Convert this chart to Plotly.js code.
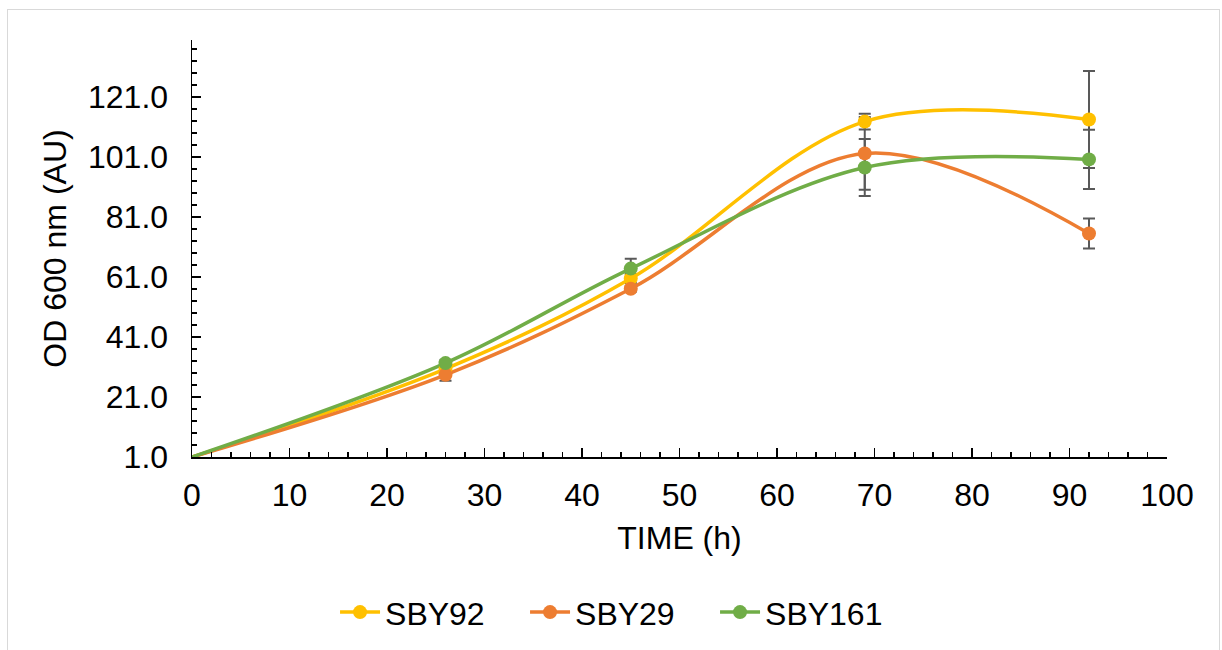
<!DOCTYPE html>
<html>
<head>
<meta charset="utf-8">
<script src="https://cdn.plot.ly/plotly-3.0.1.min.js"></script>
<style>
  html, body { margin: 0; padding: 0; background: #ffffff; }
  #wrap { position: relative; width: 1222px; height: 650px; overflow: hidden; }
  #chart { width: 1222px; height: 650px; }
  #frame { position: absolute; left: 7px; top: 9px; width: 1211px; height: 660px;
           border: 1px solid #d9d9d9; pointer-events: none; }
</style>
</head>
<body>
<div id="wrap">
  <div id="chart"></div>
  <div id="frame"></div>
</div>
<script>
// Data
const timeH = [0, 26, 45, 69, 92];
const sby92 = [1, 30.4, 60.5, 112.8, 113.5];
const sby29 = [1, 28.4, 57.1, 102.2, 75.5];
const sby161 = [1, 32.3, 63.8, 97.5, 100.2];
const err92 = [0, 1, 1.5, 2.6, 16.2];
const err29 = [0, 2, 1, 12.1, 5];
const err161 = [0, 1, 3.3, 9.5, 9.9];
const seriesNames = ['SBY92', 'SBY29', 'SBY161'];
const seriesColors = ['#FFC000', '#ED7D31', '#70AD47'];

const ys = [sby92, sby29, sby161];
const errs = [err92, err29, err161];

const FONT = 'Liberation Sans, Arial, sans-serif';
const FS = 32;

const traces = [];
// lines with error bars (no legend)
ys.forEach((y, k) => {
  traces.push({
    type: 'scatter', mode: 'lines', name: seriesNames[k], showlegend: false,
    x: timeH, y: y,
    line: { color: seriesColors[k], width: 3.5, shape: 'spline', smoothing: 1 },
    error_y: { type: 'data', array: errs[k], visible: true, color: '#595959', thickness: 2, width: 6 },
    cliponaxis: false
  });
});
// markers on top (first point at the axis origin has no marker)
ys.forEach((y, k) => {
  traces.push({
    type: 'scatter', mode: 'markers', name: seriesNames[k], showlegend: false,
    x: timeH.slice(1), y: y.slice(1),
    marker: { color: seriesColors[k], size: 14 },
    cliponaxis: false
  });
});
// legend-only entries
ys.forEach((y, k) => {
  traces.push({
    type: 'scatter', mode: 'lines+markers', name: seriesNames[k], showlegend: true,
    x: [null], y: [null],
    line: { color: seriesColors[k], width: 3.5 },
    marker: { color: seriesColors[k], size: 14 }
  });
});

const layout = {
  width: 1222,
  height: 650,
  margin: { l: 192, r: 55, t: 40, b: 193 },
  paper_bgcolor: '#ffffff',
  plot_bgcolor: '#ffffff',
  font: { family: FONT, color: '#000000', size: FS },
  showlegend: true,
  legend: {
    orientation: 'h',
    xref: 'container', x: 0.5074, xanchor: 'center',
    yref: 'container', y: 0.058, yanchor: 'middle',
    font: { family: FONT, size: FS, color: '#000000' },
    itemwidth: 40,
    entrywidth: 135,
    entrywidthmode: 'pixels',
    tracegroupgap: 0
  },
  xaxis: {
    range: [0, 100],
    tickmode: 'linear', tick0: 0, dtick: 10,
    ticks: 'inside', ticklen: 9, tickwidth: 1.5, tickcolor: '#000000',
    minor: { tickmode: 'linear', tick0: 0, dtick: 2, ticks: 'inside', ticklen: 5, tickwidth: 1.2, tickcolor: '#000000' },
    showline: true, linecolor: '#000000', linewidth: 1.5,
    showgrid: false, zeroline: false,
    tickfont: { family: FONT, size: FS, color: '#000000' },
    ticklabelstandoff: 9,
    title: { text: 'TIME (h)', font: { family: FONT, size: FS, color: '#000000' }, standoff: 14 }
  },
  yaxis: {
    range: [1, 140],
    tickmode: 'linear', tick0: 1, dtick: 20,
    tickformat: '.1f',
    ticks: 'inside', ticklen: 9, tickwidth: 1.5, tickcolor: '#000000',
    minor: { tickmode: 'linear', tick0: 1, dtick: 4, ticks: 'inside', ticklen: 5, tickwidth: 1.2, tickcolor: '#000000' },
    showline: true, linecolor: '#000000', linewidth: 1.5,
    showgrid: false, zeroline: false,
    tickfont: { family: FONT, size: FS, color: '#000000' },
    ticklabelstandoff: 16,
    title: { text: 'OD 600 nm (AU)', font: { family: FONT, size: FS, color: '#000000' }, standoff: 12 }
  }
};

Plotly.newPlot('chart', traces, layout, { displayModeBar: false, staticPlot: true });
</script>
</body>
</html>
